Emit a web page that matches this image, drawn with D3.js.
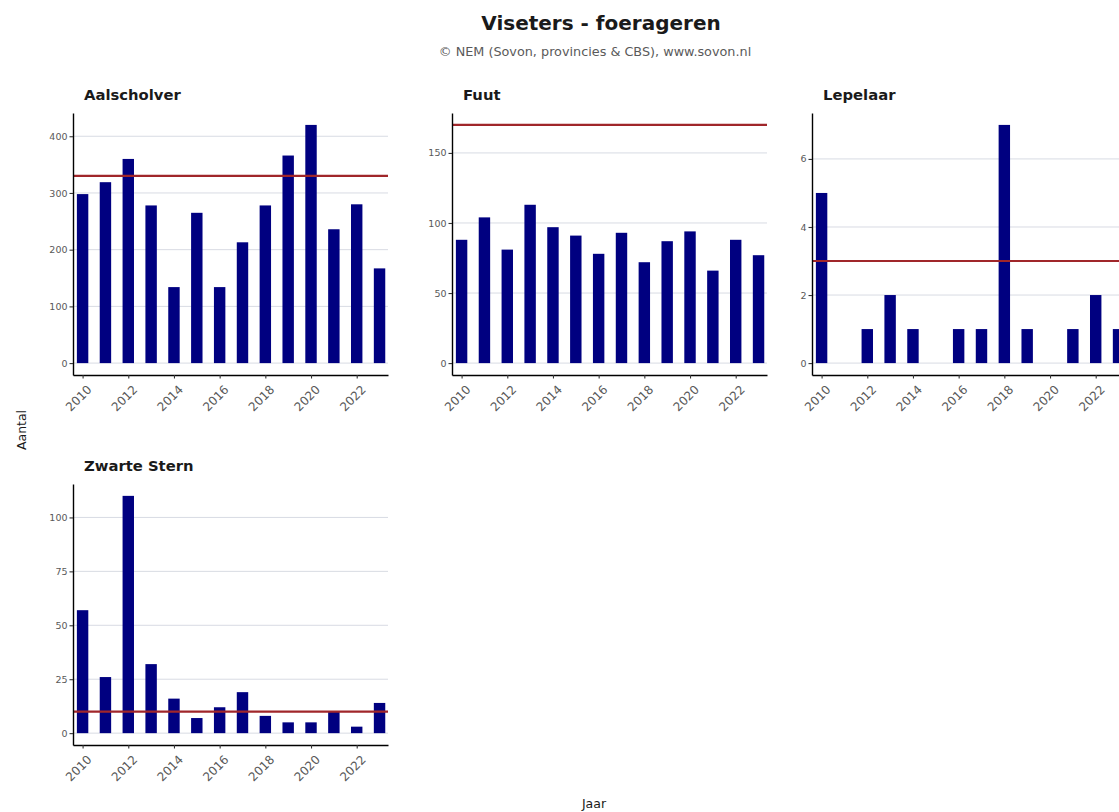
<!DOCTYPE html>
<html>
<head>
<meta charset="utf-8">
<script src="https://cdn.jsdelivr.net/npm/d3@7"></script>
<style>
	body { margin: 0; background: #ffffff; }
	svg { display: block; }
</style>
</head>
<body>
<svg id="chart" width="1119" height="812"></svg>
<script>
// Data
var years = [2010, 2011, 2012, 2013, 2014, 2015, 2016, 2017, 2018, 2019, 2020, 2021, 2022, 2023];
var species = ["Aalscholver", "Fuut", "Lepelaar", "Zwarte Stern"];
var aalscholver = [298, 319, 360, 278, 134, 265, 134, 213, 278, 366, 420, 236, 280, 167];
var fuut = [88, 104, 81, 113, 97, 91, 78, 93, 72, 87, 94, 66, 88, 77];
var lepelaar = [5, 0, 1, 2, 1, 0, 1, 1, 7, 1, 0, 1, 2, 1];
var zwarteStern = [57, 26, 110, 32, 16, 7, 12, 19, 8, 5, 5, 10, 3, 14];
var referenceLevels = [330, 170, 3, 10];
var xTickYears = [2010, 2012, 2014, 2016, 2018, 2020, 2022];
var yTicks = [
	[0, 100, 200, 300, 400],
	[0, 50, 100, 150],
	[0, 2, 4, 6],
	[0, 25, 50, 75, 100]
];

var seriesValues = [aalscholver, fuut, lepelaar, zwarteStern];

var FONT = "DejaVu Sans, Verdana, sans-serif";

// Panel layout (facet grid, 3 columns)
var panelLeft = [73, 452, 812, 73];
var panelTop = [113, 113, 113, 484];
var panelWidth = 315;
var panelHeight = [262, 262, 262, 261];

var svg = d3.select("#chart");

svg.append("text")
	.attr("x", 601)
	.attr("y", 30)
	.attr("font-family", FONT)
	.attr("font-size", "20px")
	.attr("font-weight", "bold")
	.style("fill", "#1a1a1a")
	.style("text-anchor", "middle")
	.text("Viseters - foerageren");

svg.append("text")
	.attr("x", 595)
	.attr("y", 56)
	.attr("font-family", FONT)
	.attr("font-size", "12.8px")
	.style("fill", "#5a5a5a")
	.style("text-anchor", "middle")
	.text("\u00a9 NEM (Sovon, provincies & CBS), www.sovon.nl");

svg.append("text")
	.attr("transform", "translate(26, 430) rotate(-90)")
	.attr("font-family", FONT)
	.attr("font-size", "12.5px")
	.style("fill", "#1a1a1a")
	.style("text-anchor", "middle")
	.text("Aantal");

svg.append("text")
	.attr("x", 594)
	.attr("y", 808)
	.attr("font-family", FONT)
	.attr("font-size", "12.5px")
	.style("fill", "#1a1a1a")
	.style("text-anchor", "middle")
	.text("Jaar");

for (var i = 0; i < species.length; i++) {
	drawPanel(i);
}

function drawPanel(i) {
	var values = seriesValues[i];
	var ref = referenceLevels[i];
	var h = panelHeight[i];

	var g = svg.append("g")
		.attr("transform", "translate(" + panelLeft[i] + "," + panelTop[i] + ")");

	var x = d3.scaleLinear()
		.domain([2009.58, 2023.37])
		.range([0, panelWidth]);

	// ggplot style: range [0, max] expanded by 5% on both sides
	var top = Math.max(d3.max(values), ref);
	var y = d3.scaleLinear()
		.domain([-0.05 * top, 1.05 * top])
		.range([h, 0]);

	// strip title
	g.append("text")
		.attr("x", 11)
		.attr("y", -13)
		.attr("font-family", FONT)
		.attr("font-size", "14.8px")
		.attr("font-weight", "bold")
		.style("fill", "#1a1a1a")
		.text(species[i]);

	// horizontal grid
	g.selectAll(".grid")
		.data(yTicks[i])
		.enter().append("line")
		.attr("class", "grid")
		.attr("x1", 0)
		.attr("x2", panelWidth)
		.attr("y1", function(d) { return y(d); })
		.attr("y2", function(d) { return y(d); })
		.style("stroke", "#d8dbe3")
		.style("stroke-width", 1);

	var barWidth = x(2010.25) - x(2009.75);

	g.selectAll(".bar")
		.data(years)
		.enter().append("rect")
		.attr("class", "bar")
		.attr("x", function(d) { return x(d) - barWidth / 2; })
		.attr("width", barWidth)
		.attr("y", function(d, k) { return y(values[k]); })
		.attr("height", function(d, k) { return y(0) - y(values[k]); })
		.style("fill", "#000080");

	// reference level
	g.append("line")
		.attr("x1", 0)
		.attr("x2", panelWidth)
		.attr("y1", y(ref))
		.attr("y2", y(ref))
		.style("stroke", "#a0262a")
		.style("stroke-width", 2.2);

	var yAxis = g.append("g")
		.call(d3.axisLeft(y)
			.tickValues(yTicks[i])
			.tickSize(3.5)
			.tickSizeOuter(0)
			.tickPadding(2));

	var xAxis = g.append("g")
		.attr("transform", "translate(0," + h + ")")
		.call(d3.axisBottom(x)
			.tickValues(xTickYears)
			.tickFormat(d3.format("d"))
			.tickSize(3.5)
			.tickSizeOuter(0));

	styleAxis(yAxis);
	styleAxis(xAxis);

	yAxis.selectAll("text")
		.attr("font-size", "9.5px");

	xAxis.selectAll("text")
		.attr("x", 0)
		.attr("y", 0)
		.attr("dy", "0.75em")
		.attr("font-size", "12px")
		.style("text-anchor", "end")
		.attr("transform", "translate(3,9) rotate(-45)");
}

function styleAxis(axis) {
	axis.attr("font-family", FONT);
	axis.select(".domain")
		.style("stroke", "#000000")
		.style("stroke-width", 1.4);
	axis.selectAll(".tick line")
		.style("stroke", "#333333")
		.style("stroke-width", 1.1);
	axis.selectAll(".tick text")
		.style("fill", "#595959");
}
</script>
</body>
</html>
